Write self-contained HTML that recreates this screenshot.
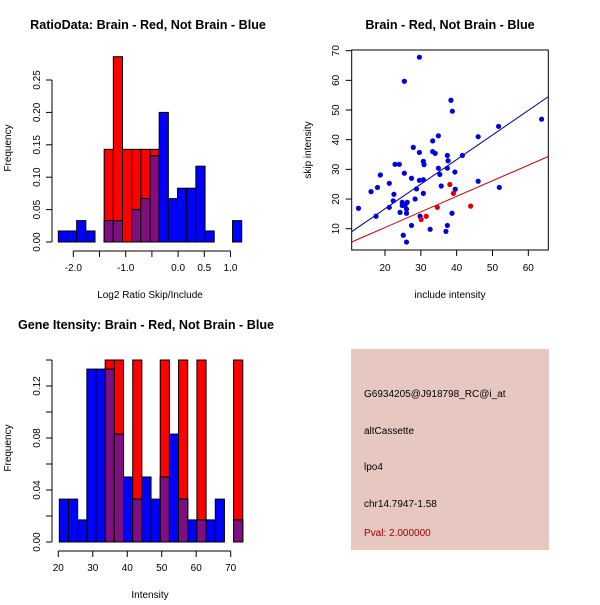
<!DOCTYPE html>
<html><head><meta charset="utf-8"><style>
body{margin:0;background:#fff}
svg text{font-family:"Liberation Sans",sans-serif}
</style></head><body>
<svg id="s" width="600" height="600" xmlns="http://www.w3.org/2000/svg">
<rect x="0" y="0" width="600" height="600" fill="#fff"/>
</svg>
<script>
// ---- ratio histogram data ----
const ratioBinStart = -2.286, ratioBinWidth = 0.175;
const ratioBlue = [0.017,0.017,0.033,0.017,0,0.033,0.033,0,0.05,0.067,0.133,0.2,0.067,0.083,0.083,0.117,0.017,0,0,0.033];
const ratioRed  = [0,0,0,0,0,0.143,0.286,0.143,0.143,0.143,0.143,0,0,0,0,0,0,0,0,0];
const ratioYTicks = [0,0.05,0.10,0.15,0.20,0.25];
const ratioYLabels = ["0.00","0.05","0.10","0.15","0.20","0.25"];
const ratioXTicks = [-2.0,-1.5,-1.0,-0.5,0.0,0.5,1.0];
const ratioXLabels = ["-2.0","","-1.0","","0.0","0.5","1.0"];
// ---- intensity histogram data ----
const intBinStart = 20.3, intBinWidth = 2.66;
const intBlue = [0.033,0.033,0.017,0.133,0.133,0.133,0.083,0.05,0.033,0.05,0.033,0.05,0.083,0.033,0.017,0.017,0.017,0.033,0,0.017];
const intRed  = [0,0,0,0,0,0.143,0.143,0,0.143,0,0,0.143,0,0.143,0,0.143,0,0,0,0.143];
const intYTicks = [0,0.02,0.04,0.06,0.08,0.10,0.12,0.14];
const intYLabels = ["0.00","","0.04","","0.08","","0.12",""];
const intXTicks = [20,30,40,50,60,70];
// ---- scatter data ----
const blueX = [12.6,16.1,18.7,17.9,17.5,21.2,21.2,22.5,22.3,22.8,24.0,24.2,24.8,24.8,25.4,25.4,25.1,25.6,26.0,26.0,26.0,26.2,27.4,27.4,27.9,28.4,28.8,29.6,29.6,29.6,29.8,30.7,30.7,30.9,30.7,32.6,33.3,33.3,34.0,34.9,34.9,35.3,35.7,37.4,37.6,37.4,37.4,37.0,38.4,38.8,38.7,39.5,39.6,41.6,46.0,46.0,51.7,51.9,63.7];
const blueY = [16.9,22.5,28.1,23.9,14.2,25.3,17.2,21.6,19.4,31.7,31.7,15.5,18.9,17.8,28.7,59.7,7.8,17.8,16.6,15.2,5.5,18.9,27.0,11.1,37.4,20.0,23.4,35.7,26.3,67.8,14.2,32.7,26.5,31.6,21.9,9.8,39.6,36.0,35.4,41.3,30.4,28.3,24.4,34.7,32.9,30.4,11.1,9.1,53.3,49.6,15.2,29.1,23.3,34.7,41.0,26.0,44.5,23.9,46.9];
const redX = [30.1,31.5,34.6,38.1,39.1,43.9];
const redY = [13.1,14.2,17.2,24.9,21.9,17.6];
const fitSlope = [0.829,0.525];      // blue, red
const fitIntercept = [0.13,-0.1];
const scXTicks = [20,30,40,50,60];
const scYTicks = [10,20,30,40,50,60,70];

const NS="http://www.w3.org/2000/svg", svg=document.getElementById('s');
function mk(tag,a,parent){const e=document.createElementNS(NS,tag);for(const k in a)e.setAttribute(k,a[k]);(parent||svg).appendChild(e);return e;}
function txt(x,y,s,a){const e=mk('text',Object.assign({x:x,y:y,'font-size':10,'text-anchor':'middle',fill:'#000'},a||{}));e.textContent=s;return e;}
const PURPLE="#7f0f80";
const TITLE={'font-size':12.6,'font-weight':'bold'};

function hist(g,blue,red,bs,bw,X,Y,clipTop){
  for(let i=0;i<blue.length;i++){
    const x0=X(bs+i*bw), x1=X(bs+(i+1)*bw);
    const r=red[i], b=blue[i], m=Math.min(r,b);
    const drawBar=(v,col,nm)=>{ if(v<=0)return; const top=Math.max(Y(v),clipTop);
      const e=mk('rect',{x:x0,y:top,width:x1-x0,height:Y(0)-top,fill:col,stroke:'#000','stroke-width':1},g);
      
      };
    drawBar(r,'#ff0000','bar-red-'+i);
    drawBar(b,'#0000ff','bar-blue-'+i);
    drawBar(m,PURPLE,'bar-overlap-'+i);
  }
}
function yaxis(g,x,ticks,labels,Y){
  mk('line',{x1:x,x2:x,y1:Y(ticks[0]),y2:Y(ticks[ticks.length-1]),stroke:'#000'},g);
  ticks.forEach((t,i)=>{const y=Y(t);mk('line',{x1:x-6,x2:x,y1:y,y2:y,stroke:'#000'},g);
    if(labels[i]) txt(x-12,y,labels[i],{transform:`rotate(-90 ${x-12} ${y})`});});
}
function xaxis(g,y,ticks,labels,X){
  mk('line',{y1:y,y2:y,x1:X(ticks[0]),x2:X(ticks[ticks.length-1]),stroke:'#000'},g);
  ticks.forEach((t,i)=>{const x=X(t);mk('line',{x1:x,x2:x,y1:y,y2:y+6,stroke:'#000'},g);
    if(labels[i]) txt(x,y+20,labels[i]);});
}

// ---- Panel 1 ----
(function(){
  const g=mk('g',{});  
  const X=v=>73.3+(v+2)*52.4, Y=v=>242-v*648;
  hist(g,ratioBlue,ratioRed,ratioBinStart,ratioBinWidth,X,Y,-1e9);
  yaxis(g,52,ratioYTicks,ratioYLabels,Y);
  xaxis(g,251,ratioXTicks,ratioXLabels,X);
  const t=txt(148,29,'RatioData: Brain - Red, Not Brain - Blue',TITLE);
  txt(150,298,'Log2 Ratio Skip/Include');
  txt(11,148,'Frequency',{transform:'rotate(-90 11 148)'});
})();

// ---- Panel 2 ----
(function(){
  const g=mk('g',{});  
  const X=v=>385+(v-20)*3.583, Y=v=>228.7-(v-10)*2.967;
  const xmin=10.7,xmax=65.6;
  mk('rect',{x:351.7,y:50,width:196.6,height:200,fill:'none',stroke:'#000'},g);
  const clip=mk('clipPath',{id:'scClip'},g); mk('rect',{x:351.7,y:50,width:196.6,height:200},clip);
  const cols=['#00008b','#cc0000'];
  fitSlope.forEach((s,i)=>{const l=mk('line',{x1:X(xmin),y1:Y(fitIntercept[i]+s*xmin),x2:X(xmax),y2:Y(fitIntercept[i]+s*xmax),stroke:cols[i],'clip-path':'url(#scClip)'},g);
    });
  blueX.forEach((x,i)=>{const c=mk('circle',{cx:X(x),cy:Y(blueY[i]),r:2.6,fill:'#0000dd'},g);
    });
  redX.forEach((x,i)=>{const c=mk('circle',{cx:X(x),cy:Y(redY[i]),r:2.6,fill:'#dd0000'},g);
    });
  scYTicks.forEach(t=>{const y=Y(t);mk('line',{x1:345.7,x2:351.7,y1:y,y2:y,stroke:'#000'},g);txt(339,y,String(t),{transform:`rotate(-90 339 ${y})`});});
  scXTicks.forEach(t=>{const x=X(t);mk('line',{x1:x,x2:x,y1:250,y2:256,stroke:'#000'},g);txt(x,271,String(t));});
  const t=txt(450,29,'Brain - Red, Not Brain - Blue',TITLE);
  txt(450,298,'include intensity');
  txt(311,150,'skip intensity',{transform:'rotate(-90 311 150)'});
})();

// ---- Panel 3 ----
(function(){
  const g=mk('g',{});  
  const X=v=>58.3+(v-20)*3.448, Y=v=>542-v*1300;
  hist(g,intBlue,intRed,intBinStart,intBinWidth,X,Y,Y(0.14));
  yaxis(g,52,intYTicks,intYLabels,Y);
  xaxis(g,551,intXTicks,intXTicks.map(String),X);
  const t=txt(146,329,'Gene Itensity: Brain - Red, Not Brain - Blue',TITLE);
  txt(150,598,'Intensity');
  txt(11,448,'Frequency',{transform:'rotate(-90 11 448)'});
})();

// ---- Panel 4 ----
(function(){
  const g=mk('g',{});  
  mk('rect',{x:351,y:349,width:198,height:201,fill:'#e6c8c0'},g);
  const lines=[['G6934205@J918798_RC@i_at',397,'#000'],['altCassette',434,'#000'],['lpo4',470,'#000'],['chr14.7947-1.58',507,'#000'],['Pval: 2.000000',536,'#a00000']];
  lines.forEach((l,i)=>{const e=txt(364,l[1],l[0],{'text-anchor':'start',fill:l[2]});});
})();
</script>
</body></html>
